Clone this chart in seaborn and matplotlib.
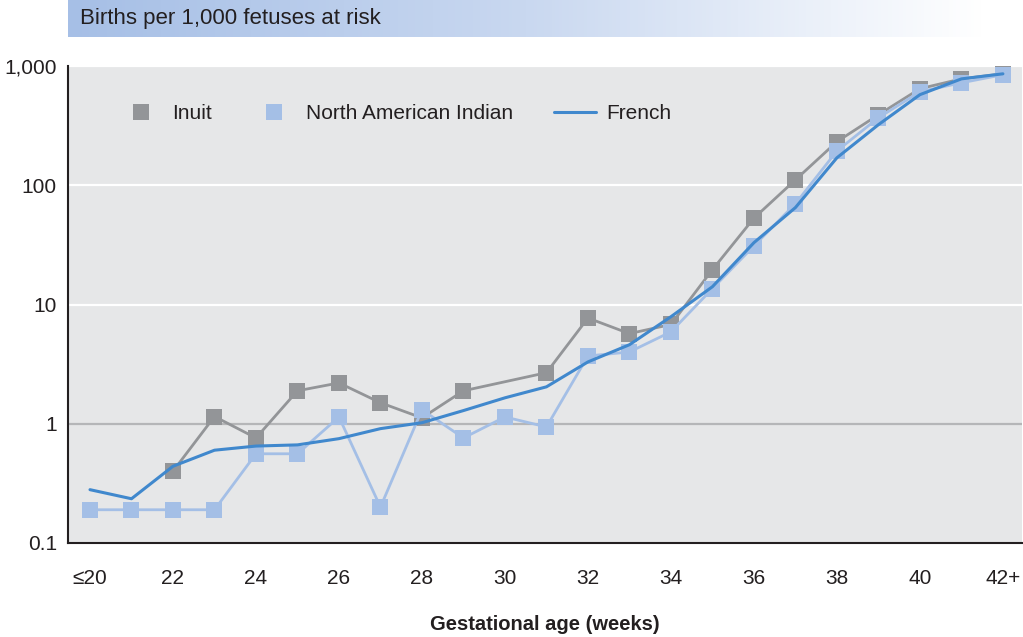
import numpy as np
import pandas as pd
import seaborn as sns
import matplotlib
matplotlib.use("Agg")
import matplotlib.pyplot as plt
from matplotlib.lines import Line2D
from matplotlib.colors import LinearSegmentedColormap

# Gestational age categories
weeks = ["≤20", "21", "22", "23", "24", "25", "26", "27", "28", "29", "30",
         "31", "32", "33", "34", "35", "36", "37", "38", "39", "40", "41", "42+"]

# Births per 1,000 fetuses at risk (None = not reported)
inuit = [None, None, 0.40, 1.15, 0.76, 1.89, 2.2, 1.5, 1.12, 1.89, None,
         2.68, 7.7, 5.7, 6.8, 19.6, 53, 111, 232, 390, 645, 780, 860]
north_american_indian = [0.19, 0.19, 0.19, 0.19, 0.56, 0.56, 1.14, 0.20, 1.31, 0.76, 1.14,
                         0.94, 3.7, 4.0, 5.9, 13.6, 31, 70, 194, 368, 608, 723, 845]
french = [0.28, 0.235, 0.44, 0.60, 0.65, 0.665, 0.75, 0.91, 1.02, 1.29, 1.65,
          2.04, 3.3, 4.6, 7.9, 14.1, 33, 65, 170, 322, 575, 780, 860]

groups = ["Inuit", "North American Indian", "French"]
series = [inuit, north_american_indian, french]

rows = []
for g, vals in zip(groups, series):
    for i, v in enumerate(vals):
        if v is not None:
            rows.append({"pos": i, "rate": v, "group": g})
df = pd.DataFrame(rows)

sns.set_theme(style="white")
plt.rcParams["font.family"] = ["Liberation Sans", "DejaVu Sans"]

colors = {"Inuit": "#939598", "North American Indian": "#a4bfe6", "French": "#4088cd"}
text_color = "#231f20"

fig = plt.figure(figsize=(10.23, 6.37), dpi=100)
W, H = 1023, 637
ax = fig.add_axes([68 / W, (H - 543) / H, (1022 - 68) / W, (543 - 66) / H])
ax.set_facecolor("#e6e7e8")

# Horizontal reference lines
for yv in [10, 100, 1000]:
    ax.axhline(yv, color="white", lw=1.6, zorder=1)
ax.axhline(1, color="#b5b6b8", lw=1.6, zorder=1)

for g in groups:
    sub = df[df["group"] == g]
    if g == "French":
        sns.lineplot(data=sub, x="pos", y="rate", ax=ax, color=colors[g],
                     lw=2.2, zorder=4, legend=False)
    else:
        sns.lineplot(data=sub, x="pos", y="rate", ax=ax, color=colors[g],
                     lw=2.0, marker="s", markersize=12, markeredgewidth=0,
                     zorder=3, legend=False)

ax.set_yscale("log")
ax.set_ylim(0.1, 1000)
ax.set_xlim(-0.53, 22.46)

ax.set_yticks([0.1, 1, 10, 100, 1000])
ax.set_yticklabels(["0.1", "1", "10", "100", "1,000"])
ax.yaxis.set_minor_locator(matplotlib.ticker.NullLocator())
ax.tick_params(axis="y", which="both", length=0, pad=8, labelsize=15,
               labelcolor=text_color)

# Tick marks between labelled weeks, labels on even weeks
ax.set_xticks(list(range(1, 23, 2)))
ax.set_xticklabels([])
ax.set_xticks(list(range(0, 23, 2)), minor=True)
ax.set_xticklabels([weeks[i] for i in range(0, 23, 2)], minor=True)
ax.tick_params(axis="x", which="major", direction="in", length=5, width=1.2,
               color="#231f20")
ax.tick_params(axis="x", which="minor", length=0, pad=19, labelsize=15,
               labelcolor=text_color)

for side in ["top", "right"]:
    ax.spines[side].set_visible(False)
for side in ["left", "bottom"]:
    ax.spines[side].set_color("#231f20")
    ax.spines[side].set_linewidth(1.5)

ax.set_xlabel("")
ax.set_ylabel("")
fig.text((68 + 1022) / 2 / W, 1 - 625 / H, "Gestational age (weeks)",
         fontsize=14.5, fontweight="bold", color=text_color,
         ha="center", va="center")

handles = [
    Line2D([], [], color=colors["Inuit"], marker="s", markersize=12, lw=0,
           markeredgewidth=0),
    Line2D([], [], color=colors["North American Indian"], marker="s",
           markersize=12, lw=0, markeredgewidth=0),
    Line2D([], [], color=colors["French"], lw=2.2),
]
leg = ax.legend(handles, groups, ncol=3, frameon=False, loc="center left",
                bbox_to_anchor=(0.0545, 0.9), borderaxespad=0, borderpad=0,
                fontsize=15, columnspacing=2.0, handlelength=2.0,
                handletextpad=0.5)
for t in leg.get_texts():
    t.set_color(text_color)

# Header band with fading gradient
hax = fig.add_axes([68 / W, (H - 37) / H, (985 - 68) / W, 37 / H])
cmap = LinearSegmentedColormap.from_list("band", ["#a6bfe6", "#c9d8f0", "#ffffff"])
grad = np.linspace(0, 1, 256).reshape(1, -1)
hax.imshow(grad, aspect="auto", cmap=cmap, extent=[0, 1, 0, 1])
hax.set_axis_off()
hax.text(0.013, 0.5, "Births per 1,000 fetuses at risk", fontsize=16,
         color=text_color, va="center", ha="left", transform=hax.transAxes)

fig.savefig("out.png", dpi=100)
